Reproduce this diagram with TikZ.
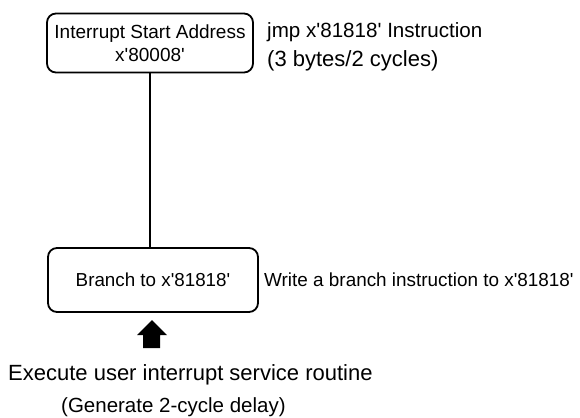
\documentclass[tikz,border=0pt]{standalone}
\usepackage{fontspec}
\setmainfont{Liberation Sans}[Ligatures=TeXOff]
\begin{document}
\begin{tikzpicture}[x=1pt,y=-1pt,
  box/.style={draw,line width=1.8pt,rounded corners=9pt,inner sep=0pt},
  lbl/.style={anchor=west,align=left,inner sep=0pt}]
\useasboundingbox (0,0) rectangle (580,417);
\node[box,minimum width=206,minimum height=59,align=center,font=\fontsize{19}{23}\selectfont] (top) at (150,43) {Interrupt Start Address\\x'80008'};
\node[box,minimum width=210,minimum height=64,font=\fontsize{18.8}{22}\selectfont] (bot) at (153,280) {Branch to x'81818'};
\draw[line width=1.8pt] (top.south -| 150,0) -- (bot.north -| 150,0);
\node[lbl,font=\fontsize{20.6}{22}\selectfont] (t1) at (267,32) {jmp x'81818' Instruction};
\node[lbl,font=\fontsize{22}{24}\selectfont] (t2) at (267,61) {(3 bytes/2 cycles)};
\node[lbl,font=\fontsize{18.9}{22}\selectfont] (t3) at (264,280) {Write a branch instruction to x'81818'};
\fill (152,320) -- (167,335) -- (160,335) -- (160,348) -- (143,348) -- (143,335) -- (137,335) -- cycle;
\node[anchor=west,inner sep=0pt,font=\fontsize{22}{24}\selectfont] (e) at (8,375) {Execute user interrupt service routine};
\node[anchor=west,inner sep=0pt,font=\fontsize{20.5}{22}\selectfont] (g) at (61,407) {(Generate 2-cycle delay)};
\end{tikzpicture}
\end{document}
